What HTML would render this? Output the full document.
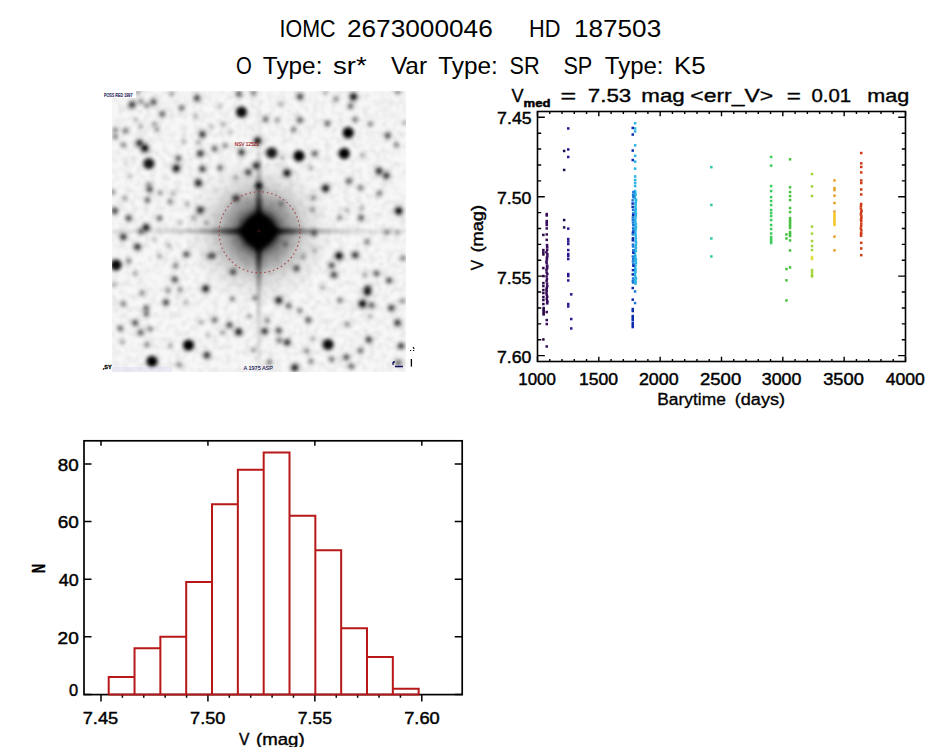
<!DOCTYPE html>
<html><head><meta charset="utf-8"><style>
html,body{margin:0;padding:0;background:#fff;width:944px;height:747px;overflow:hidden}
svg{display:block}
text{font-family:"Liberation Sans",sans-serif;fill:#000;stroke:#000;stroke-width:0.45px}
</style></head><body>
<svg width="944" height="747" viewBox="0 0 944 747">
<text x="279.61" y="37.2" font-size="24" textLength="55.98" lengthAdjust="spacingAndGlyphs" style="stroke-width:0.0px">IOMC</text>
<text x="346.91" y="37.2" font-size="24" textLength="145.82" lengthAdjust="spacingAndGlyphs" style="stroke-width:0.0px">2673000046</text>
<text x="529.09" y="37.2" font-size="24" textLength="31.42" lengthAdjust="spacingAndGlyphs" style="stroke-width:0.0px">HD</text>
<text x="574.02" y="37.2" font-size="24" textLength="87.17" lengthAdjust="spacingAndGlyphs" style="stroke-width:0.0px">187503</text>
<text x="235.95" y="74.2" font-size="24" textLength="15.82" lengthAdjust="spacingAndGlyphs" style="stroke-width:0.0px">O</text>
<text x="262.89" y="74.2" font-size="24" textLength="59.54" lengthAdjust="spacingAndGlyphs" style="stroke-width:0.0px">Type:</text>
<text x="333.05" y="74.2" font-size="24" textLength="33.75" lengthAdjust="spacingAndGlyphs" style="stroke-width:0.0px">sr*</text>
<text x="390.9" y="74.2" font-size="24" textLength="36.19" lengthAdjust="spacingAndGlyphs" style="stroke-width:0.0px">Var</text>
<text x="438.19" y="74.2" font-size="24" textLength="59.54" lengthAdjust="spacingAndGlyphs" style="stroke-width:0.0px">Type:</text>
<text x="509.5" y="74.2" font-size="24" textLength="30.12" lengthAdjust="spacingAndGlyphs" style="stroke-width:0.0px">SR</text>
<text x="563.4" y="74.2" font-size="24" textLength="28.92" lengthAdjust="spacingAndGlyphs" style="stroke-width:0.0px">SP</text>
<text x="604.8" y="74.2" font-size="24" textLength="58.7" lengthAdjust="spacingAndGlyphs" style="stroke-width:0.0px">Type:</text>
<text x="674.05" y="74.2" font-size="24" textLength="31.62" lengthAdjust="spacingAndGlyphs" style="stroke-width:0.0px">K5</text>
<text x="511.5" y="101.8" font-size="18.6" textLength="12.1" lengthAdjust="spacingAndGlyphs" style="stroke-width:0.35px">V</text>
<text x="560.56" y="101.8" font-size="18.6" textLength="15.69" lengthAdjust="spacingAndGlyphs" style="stroke-width:0.35px">=</text>
<text x="587.8" y="101.8" font-size="18.6" textLength="43.44" lengthAdjust="spacingAndGlyphs" style="stroke-width:0.35px">7.53</text>
<text x="641.3" y="101.8" font-size="18.6" textLength="43.41" lengthAdjust="spacingAndGlyphs" style="stroke-width:0.35px">mag</text>
<text x="690.27" y="101.8" font-size="18.6" textLength="82.97" lengthAdjust="spacingAndGlyphs" style="stroke-width:0.35px">&lt;err_V&gt;</text>
<text x="786.7" y="101.8" font-size="18.6" textLength="14.12" lengthAdjust="spacingAndGlyphs" style="stroke-width:0.35px">=</text>
<text x="811.5" y="101.8" font-size="18.6" textLength="39.72" lengthAdjust="spacingAndGlyphs" style="stroke-width:0.35px">0.01</text>
<text x="867.34" y="101.8" font-size="18.6" textLength="42.02" lengthAdjust="spacingAndGlyphs" style="stroke-width:0.35px">mag</text>
<text x="657.3" y="404.9" font-size="17.3" textLength="68.49" lengthAdjust="spacingAndGlyphs" style="stroke-width:0.35px">Barytime</text>
<text x="734.75" y="404.9" font-size="17.3" textLength="50.31" lengthAdjust="spacingAndGlyphs" style="stroke-width:0.35px">(days)</text>
<text x="238.9" y="744.5" font-size="16.8" textLength="10.39" lengthAdjust="spacingAndGlyphs" style="stroke-width:0.4px">V</text>
<text x="255.99" y="744.5" font-size="16.8" textLength="48.63" lengthAdjust="spacingAndGlyphs" style="stroke-width:0.4px">(mag)</text>
<text transform="translate(482.8,0) rotate(-90)" x="-270.3" y="0" font-size="17" textLength="10.42" lengthAdjust="spacingAndGlyphs" style="stroke-width:0.4px">V</text>
<text transform="translate(482.8,0) rotate(-90)" x="-252.57" y="0" font-size="17" textLength="47.61" lengthAdjust="spacingAndGlyphs" style="stroke-width:0.4px">(mag)</text>
<text x="518.29" y="385.3" font-size="16.8" textLength="37.55" lengthAdjust="spacingAndGlyphs" style="stroke-width:0.45px">1000</text>
<text x="578.95" y="385.3" font-size="16.8" textLength="39.11" lengthAdjust="spacingAndGlyphs" style="stroke-width:0.45px">1500</text>
<text x="638.94" y="385.3" font-size="16.8" textLength="39.73" lengthAdjust="spacingAndGlyphs" style="stroke-width:0.45px">2000</text>
<text x="700.0" y="385.3" font-size="16.8" textLength="41.18" lengthAdjust="spacingAndGlyphs" style="stroke-width:0.45px">2500</text>
<text x="761.74" y="385.3" font-size="16.8" textLength="39.63" lengthAdjust="spacingAndGlyphs" style="stroke-width:0.45px">3000</text>
<text x="823.21" y="385.3" font-size="16.8" textLength="40.66" lengthAdjust="spacingAndGlyphs" style="stroke-width:0.45px">3500</text>
<text x="885.7" y="385.3" font-size="16.8" textLength="39.16" lengthAdjust="spacingAndGlyphs" style="stroke-width:0.45px">4000</text>
<text x="497.14" y="124.2" font-size="16.8" textLength="34.57" lengthAdjust="spacingAndGlyphs" style="stroke-width:0.45px">7.45</text>
<text x="497.05" y="204.2" font-size="16.8" textLength="34.36" lengthAdjust="spacingAndGlyphs" style="stroke-width:0.45px">7.50</text>
<text x="497.05" y="283.8" font-size="16.8" textLength="34.36" lengthAdjust="spacingAndGlyphs" style="stroke-width:0.45px">7.55</text>
<text x="497.05" y="362.7" font-size="16.8" textLength="34.36" lengthAdjust="spacingAndGlyphs" style="stroke-width:0.45px">7.60</text>
<text x="82.71" y="724.3" font-size="16.8" textLength="35.52" lengthAdjust="spacingAndGlyphs" style="stroke-width:0.45px">7.45</text>
<text x="190.12" y="724.3" font-size="16.8" textLength="35.31" lengthAdjust="spacingAndGlyphs" style="stroke-width:0.45px">7.50</text>
<text x="297.85" y="724.3" font-size="16.8" textLength="34.15" lengthAdjust="spacingAndGlyphs" style="stroke-width:0.45px">7.55</text>
<text x="404.21" y="724.3" font-size="16.8" textLength="35.52" lengthAdjust="spacingAndGlyphs" style="stroke-width:0.45px">7.60</text>
<text x="57.78" y="470.8" font-size="16.8" textLength="20.87" lengthAdjust="spacingAndGlyphs" style="stroke-width:0.45px">80</text>
<text x="57.67" y="528.4" font-size="16.8" textLength="21.09" lengthAdjust="spacingAndGlyphs" style="stroke-width:0.45px">60</text>
<text x="58.8" y="586" font-size="16.8" textLength="19.92" lengthAdjust="spacingAndGlyphs" style="stroke-width:0.45px">40</text>
<text x="57.56" y="643.5" font-size="16.8" textLength="21.2" lengthAdjust="spacingAndGlyphs" style="stroke-width:0.45px">20</text>
<text x="69.0" y="695.7" font-size="16.8" textLength="9.14" lengthAdjust="spacingAndGlyphs" style="stroke-width:0.45px">0</text>
<rect x="537.5" y="111.5" width="368.0" height="250.0" fill="none" stroke="#000" stroke-width="1.6"/>
<path d="M537.50 361.5v-4.8M537.50 111.5v4.8M549.77 361.5v-2.4M549.77 111.5v2.4M562.03 361.5v-2.4M562.03 111.5v2.4M574.30 361.5v-2.4M574.30 111.5v2.4M586.57 361.5v-2.4M586.57 111.5v2.4M598.83 361.5v-4.8M598.83 111.5v4.8M611.10 361.5v-2.4M611.10 111.5v2.4M623.37 361.5v-2.4M623.37 111.5v2.4M635.63 361.5v-2.4M635.63 111.5v2.4M647.90 361.5v-2.4M647.90 111.5v2.4M660.17 361.5v-4.8M660.17 111.5v4.8M672.43 361.5v-2.4M672.43 111.5v2.4M684.70 361.5v-2.4M684.70 111.5v2.4M696.97 361.5v-2.4M696.97 111.5v2.4M709.23 361.5v-2.4M709.23 111.5v2.4M721.50 361.5v-4.8M721.50 111.5v4.8M733.77 361.5v-2.4M733.77 111.5v2.4M746.03 361.5v-2.4M746.03 111.5v2.4M758.30 361.5v-2.4M758.30 111.5v2.4M770.57 361.5v-2.4M770.57 111.5v2.4M782.83 361.5v-4.8M782.83 111.5v4.8M795.10 361.5v-2.4M795.10 111.5v2.4M807.37 361.5v-2.4M807.37 111.5v2.4M819.63 361.5v-2.4M819.63 111.5v2.4M831.90 361.5v-2.4M831.90 111.5v2.4M844.17 361.5v-4.8M844.17 111.5v4.8M856.43 361.5v-2.4M856.43 111.5v2.4M868.70 361.5v-2.4M868.70 111.5v2.4M880.97 361.5v-2.4M880.97 111.5v2.4M893.23 361.5v-2.4M893.23 111.5v2.4M905.50 361.5v-4.8M905.50 111.5v4.8M537.5 117.30h7.3M905.5 117.30h-7.3M537.5 133.19h3.7M905.5 133.19h-3.7M537.5 149.07h3.7M905.5 149.07h-3.7M537.5 164.96h3.7M905.5 164.96h-3.7M537.5 180.85h3.7M905.5 180.85h-3.7M537.5 196.73h7.3M905.5 196.73h-7.3M537.5 212.62h3.7M905.5 212.62h-3.7M537.5 228.51h3.7M905.5 228.51h-3.7M537.5 244.40h3.7M905.5 244.40h-3.7M537.5 260.28h3.7M905.5 260.28h-3.7M537.5 276.17h7.3M905.5 276.17h-7.3M537.5 292.06h3.7M905.5 292.06h-3.7M537.5 307.94h3.7M905.5 307.94h-3.7M537.5 323.83h3.7M905.5 323.83h-3.7M537.5 339.72h3.7M905.5 339.72h-3.7M537.5 355.61h7.3M905.5 355.61h-7.3" stroke="#000" stroke-width="1.4" fill="none"/>
<text x="523.6" y="107.2" font-size="11" font-weight="bold" textLength="27" lengthAdjust="spacingAndGlyphs">med</text>
<rect x="84" y="440.8" width="378.2" height="253.8" fill="none" stroke="#000" stroke-width="1.7"/>
<path d="M101.00 694.6v6.8M101.00 440.8v5M122.39 694.6v3.2M143.77 694.6v3.2M165.16 694.6v3.2M186.55 694.6v3.2M207.93 694.6v6.8M207.93 440.8v5M229.32 694.6v3.2M250.71 694.6v3.2M272.09 694.6v3.2M293.48 694.6v3.2M314.87 694.6v6.8M314.87 440.8v5M336.25 694.6v3.2M357.64 694.6v3.2M379.03 694.6v3.2M400.41 694.6v3.2M421.80 694.6v6.8M421.80 440.8v5M84 694.40h7.5M462.2 694.40h-7.5M84 636.78h7.5M462.2 636.78h-7.5M84 579.16h7.5M462.2 579.16h-7.5M84 521.54h7.5M462.2 521.54h-7.5M84 463.92h7.5M462.2 463.92h-7.5" stroke="#000" stroke-width="1.5" fill="none"/>
<text transform="translate(45.1,572.9) rotate(-90)" font-size="17.5" font-weight="bold" textLength="9" lengthAdjust="spacingAndGlyphs">N</text>
<path d="M108.70 694.6V677.11H134.53V694.6V648.30H160.36V694.6V636.78H186.19V694.6V582.04H212.02V694.6V504.25H237.85V694.6V469.68H263.68V694.6V452.40H289.51V694.6V515.78H315.34V694.6V550.35H341.17V694.6V628.14H367.00V694.6V656.95H392.83V694.6V688.64H418.66V694.6H108.70" stroke="#b81818" stroke-width="2" fill="none"/>
<defs><clipPath id="fc"><rect x="112" y="91" width="294" height="281"/></clipPath><radialGradient id="sg"><stop offset="0.00" stop-opacity="1.000"/><stop offset="0.10" stop-opacity="0.956"/><stop offset="0.20" stop-opacity="0.835"/><stop offset="0.30" stop-opacity="0.667"/><stop offset="0.40" stop-opacity="0.487"/><stop offset="0.50" stop-opacity="0.325"/><stop offset="0.60" stop-opacity="0.198"/><stop offset="0.70" stop-opacity="0.110"/><stop offset="0.80" stop-opacity="0.056"/><stop offset="0.90" stop-opacity="0.026"/><stop offset="1.00" stop-opacity="0.011"/></radialGradient><radialGradient id="ss"><stop offset="0" stop-opacity="1"/><stop offset="0.3" stop-opacity="1"/><stop offset="0.5" stop-opacity="0.7"/><stop offset="0.7" stop-opacity="0.3"/><stop offset="0.85" stop-opacity="0.1"/><stop offset="1" stop-opacity="0"/></radialGradient><radialGradient id="halo"><stop offset="0.000" stop-opacity="1.000"/><stop offset="0.160" stop-opacity="1.000"/><stop offset="0.200" stop-opacity="0.920"/><stop offset="0.253" stop-opacity="0.700"/><stop offset="0.307" stop-opacity="0.520"/><stop offset="0.373" stop-opacity="0.400"/><stop offset="0.453" stop-opacity="0.310"/><stop offset="0.533" stop-opacity="0.220"/><stop offset="0.627" stop-opacity="0.130"/><stop offset="0.733" stop-opacity="0.070"/><stop offset="0.867" stop-opacity="0.030"/><stop offset="1.000" stop-opacity="0.000"/></radialGradient><linearGradient id="sph" x1="0" y1="0" x2="1" y2="0"><stop offset="0.1252" stop-opacity="0.070"/><stop offset="0.2272" stop-opacity="0.150"/><stop offset="0.3122" stop-opacity="0.240"/><stop offset="0.3633" stop-opacity="0.360"/><stop offset="0.3973" stop-opacity="0.500"/><stop offset="0.4313" stop-opacity="0.620"/><stop offset="0.4993" stop-opacity="0.700"/><stop offset="0.5673" stop-opacity="0.620"/><stop offset="0.6014" stop-opacity="0.500"/><stop offset="0.6354" stop-opacity="0.360"/><stop offset="0.6864" stop-opacity="0.240"/><stop offset="0.7714" stop-opacity="0.150"/><stop offset="0.8735" stop-opacity="0.070"/></linearGradient><linearGradient id="spv" x1="0" y1="0" x2="0" y2="1"><stop offset="0.0000" stop-opacity="0.000"/><stop offset="0.1431" stop-opacity="0.030"/><stop offset="0.2142" stop-opacity="0.080"/><stop offset="0.3032" stop-opacity="0.180"/><stop offset="0.3566" stop-opacity="0.340"/><stop offset="0.3922" stop-opacity="0.500"/><stop offset="0.4278" stop-opacity="0.620"/><stop offset="0.4989" stop-opacity="0.700"/><stop offset="0.5701" stop-opacity="0.620"/><stop offset="0.6057" stop-opacity="0.500"/><stop offset="0.6413" stop-opacity="0.340"/><stop offset="0.6947" stop-opacity="0.220"/><stop offset="0.7836" stop-opacity="0.140"/><stop offset="0.8904" stop-opacity="0.090"/><stop offset="1.0000" stop-opacity="0.050"/></linearGradient><linearGradient id="sph2" x1="0" y1="0" x2="1" y2="0"><stop offset="0.2952" stop-opacity="0.000"/><stop offset="0.3565" stop-opacity="0.080"/><stop offset="0.3973" stop-opacity="0.200"/><stop offset="0.4313" stop-opacity="0.330"/><stop offset="0.4993" stop-opacity="0.400"/><stop offset="0.5673" stop-opacity="0.330"/><stop offset="0.6014" stop-opacity="0.200"/><stop offset="0.6422" stop-opacity="0.080"/><stop offset="0.7034" stop-opacity="0.000"/></linearGradient><linearGradient id="spv2" x1="0" y1="0" x2="0" y2="1"><stop offset="0.2854" stop-opacity="0.000"/><stop offset="0.3495" stop-opacity="0.080"/><stop offset="0.3922" stop-opacity="0.200"/><stop offset="0.4278" stop-opacity="0.330"/><stop offset="0.4989" stop-opacity="0.400"/><stop offset="0.5701" stop-opacity="0.330"/><stop offset="0.6057" stop-opacity="0.200"/><stop offset="0.6484" stop-opacity="0.080"/><stop offset="0.7125" stop-opacity="0.000"/></linearGradient><filter id="b1" x="-50%" y="-50%" width="200%" height="200%"><feGaussianBlur stdDeviation="1.5"/></filter><filter id="tex" x="112" y="91" width="294" height="281" filterUnits="userSpaceOnUse"><feTurbulence type="fractalNoise" baseFrequency="0.16" numOctaves="2" seed="7"/><feColorMatrix type="matrix" values="0 0 0 0 0  0 0 0 0 0  0 0 0 0 0  0 0 0 -2.2 1.35"/><feGaussianBlur stdDeviation="0.9"/></filter><filter id="b07" x="0" y="0" width="944" height="747" filterUnits="userSpaceOnUse"><feGaussianBlur stdDeviation="0.8"/></filter><filter id="b2" x="-50%" y="-50%" width="200%" height="200%"><feGaussianBlur stdDeviation="2.2"/></filter><filter id="b3" x="-50%" y="-50%" width="200%" height="200%"><feGaussianBlur stdDeviation="2.8"/></filter></defs>
<g clip-path="url(#fc)">
<rect x="112" y="91" width="294" height="281" fill="#f7f7f7"/>
<rect x="112" y="91" width="294" height="281" filter="url(#tex)" opacity="0.075"/>
<g filter="url(#b07)">
<circle cx="132.1" cy="104.7" r="8.0" fill="url(#sg)" opacity="0.72"/>
<circle cx="140.8" cy="101.4" r="6.9" fill="url(#sg)" opacity="0.36"/>
<circle cx="146.8" cy="105.4" r="6.9" fill="url(#sg)" opacity="0.36"/>
<circle cx="153.5" cy="102.1" r="7.6" fill="url(#sg)" opacity="0.60"/>
<circle cx="171.6" cy="94.0" r="6.7" fill="url(#sg)" opacity="0.30"/>
<circle cx="197.0" cy="98.0" r="7.8" fill="url(#sg)" opacity="0.66"/>
<circle cx="181.6" cy="108.0" r="7.3" fill="url(#sg)" opacity="0.48"/>
<circle cx="162.2" cy="114.1" r="7.5" fill="url(#sg)" opacity="0.54"/>
<circle cx="138.1" cy="92.0" r="6.7" fill="url(#sg)" opacity="0.30"/>
<circle cx="115.4" cy="130.0" r="6.9" fill="url(#sg)" opacity="0.36"/>
<circle cx="115.4" cy="137.0" r="6.9" fill="url(#sg)" opacity="0.36"/>
<circle cx="125.4" cy="130.8" r="7.1" fill="url(#sg)" opacity="0.42"/>
<circle cx="154.2" cy="124.1" r="6.7" fill="url(#sg)" opacity="0.30"/>
<circle cx="156.9" cy="129.5" r="6.7" fill="url(#sg)" opacity="0.30"/>
<circle cx="140.8" cy="126.8" r="6.5" fill="url(#sg)" opacity="0.24"/>
<circle cx="135.4" cy="119.5" r="6.3" fill="url(#sg)" opacity="0.18"/>
<circle cx="202.4" cy="134.2" r="8.0" fill="url(#sg)" opacity="0.72"/>
<circle cx="198.4" cy="142.2" r="6.5" fill="url(#sg)" opacity="0.24"/>
<circle cx="183.6" cy="141.5" r="6.3" fill="url(#sg)" opacity="0.18"/>
<circle cx="139.5" cy="142.9" r="8.2" fill="url(#sg)" opacity="0.78"/>
<circle cx="144.8" cy="148.2" r="8.8" fill="url(#sg)" opacity="0.96"/>
<circle cx="123.4" cy="144.9" r="6.9" fill="url(#sg)" opacity="0.36"/>
<circle cx="148.8" cy="163.6" r="8.8" fill="url(#ss)" opacity="0.90"/>
<circle cx="178.3" cy="158.3" r="7.5" fill="url(#sg)" opacity="0.54"/>
<circle cx="176.3" cy="168.3" r="8.6" fill="url(#sg)" opacity="0.90"/>
<circle cx="200.4" cy="153.6" r="8.0" fill="url(#sg)" opacity="0.72"/>
<circle cx="202.4" cy="169.0" r="7.8" fill="url(#sg)" opacity="0.66"/>
<circle cx="198.4" cy="183.0" r="8.4" fill="url(#sg)" opacity="0.84"/>
<circle cx="130.1" cy="176.4" r="6.3" fill="url(#sg)" opacity="0.18"/>
<circle cx="126.0" cy="163.6" r="6.1" fill="url(#sg)" opacity="0.12"/>
<circle cx="148.8" cy="184.4" r="6.7" fill="url(#sg)" opacity="0.30"/>
<circle cx="195.7" cy="116.1" r="6.5" fill="url(#sg)" opacity="0.24"/>
<circle cx="241.5" cy="112.1" r="8.8" fill="url(#ss)" opacity="0.95"/>
<circle cx="238.8" cy="94.0" r="7.5" fill="url(#sg)" opacity="0.54"/>
<circle cx="253.5" cy="92.7" r="7.1" fill="url(#sg)" opacity="0.42"/>
<circle cx="300.0" cy="96.7" r="7.8" fill="url(#sg)" opacity="0.66"/>
<circle cx="220.1" cy="106.1" r="6.3" fill="url(#sg)" opacity="0.18"/>
<circle cx="265.6" cy="119.5" r="7.3" fill="url(#sg)" opacity="0.48"/>
<circle cx="280.3" cy="104.1" r="6.5" fill="url(#sg)" opacity="0.24"/>
<circle cx="277.6" cy="120.1" r="6.7" fill="url(#sg)" opacity="0.30"/>
<circle cx="300.0" cy="120.1" r="7.5" fill="url(#sg)" opacity="0.54"/>
<circle cx="293.7" cy="129.5" r="7.1" fill="url(#sg)" opacity="0.42"/>
<circle cx="223.4" cy="124.1" r="6.5" fill="url(#sg)" opacity="0.24"/>
<circle cx="257.6" cy="140.9" r="8.6" fill="url(#sg)" opacity="0.90"/>
<circle cx="241.5" cy="152.3" r="8.0" fill="url(#sg)" opacity="0.72"/>
<circle cx="271.6" cy="152.9" r="8.8" fill="url(#ss)" opacity="0.90"/>
<circle cx="299.0" cy="156.0" r="8.8" fill="url(#ss)" opacity="1.00"/>
<circle cx="214.7" cy="148.9" r="7.3" fill="url(#sg)" opacity="0.48"/>
<circle cx="225.4" cy="145.6" r="6.9" fill="url(#sg)" opacity="0.36"/>
<circle cx="256.2" cy="165.6" r="8.2" fill="url(#sg)" opacity="0.78"/>
<circle cx="248.2" cy="172.3" r="7.8" fill="url(#sg)" opacity="0.66"/>
<circle cx="287.0" cy="173.0" r="8.6" fill="url(#sg)" opacity="0.90"/>
<circle cx="220.1" cy="167.7" r="7.3" fill="url(#sg)" opacity="0.48"/>
<circle cx="236.1" cy="177.7" r="6.5" fill="url(#sg)" opacity="0.24"/>
<circle cx="258.9" cy="185.8" r="8.6" fill="url(#sg)" opacity="0.90"/>
<circle cx="282.3" cy="157.6" r="6.5" fill="url(#sg)" opacity="0.24"/>
<circle cx="230.8" cy="132.2" r="6.3" fill="url(#sg)" opacity="0.18"/>
<circle cx="212.0" cy="126.8" r="6.3" fill="url(#sg)" opacity="0.18"/>
<circle cx="353.5" cy="96.7" r="8.6" fill="url(#sg)" opacity="0.90"/>
<circle cx="350.5" cy="106.0" r="7.3" fill="url(#sg)" opacity="0.48"/>
<circle cx="336.1" cy="98.7" r="6.9" fill="url(#sg)" opacity="0.36"/>
<circle cx="325.4" cy="92.7" r="6.5" fill="url(#sg)" opacity="0.24"/>
<circle cx="397.7" cy="92.0" r="6.9" fill="url(#sg)" opacity="0.36"/>
<circle cx="327.4" cy="123.5" r="7.3" fill="url(#sg)" opacity="0.48"/>
<circle cx="354.9" cy="119.5" r="7.1" fill="url(#sg)" opacity="0.42"/>
<circle cx="370.3" cy="124.1" r="6.9" fill="url(#sg)" opacity="0.36"/>
<circle cx="348.2" cy="132.8" r="8.8" fill="url(#ss)" opacity="1.00"/>
<circle cx="387.7" cy="135.5" r="7.6" fill="url(#sg)" opacity="0.60"/>
<circle cx="396.4" cy="144.9" r="6.9" fill="url(#sg)" opacity="0.36"/>
<circle cx="314.7" cy="153.6" r="7.5" fill="url(#sg)" opacity="0.54"/>
<circle cx="344.2" cy="153.6" r="8.8" fill="url(#ss)" opacity="1.00"/>
<circle cx="362.2" cy="154.9" r="6.5" fill="url(#sg)" opacity="0.24"/>
<circle cx="379.0" cy="171.0" r="8.2" fill="url(#sg)" opacity="0.78"/>
<circle cx="386.3" cy="175.7" r="8.0" fill="url(#sg)" opacity="0.72"/>
<circle cx="348.9" cy="181.2" r="7.5" fill="url(#sg)" opacity="0.54"/>
<circle cx="310.7" cy="168.3" r="6.5" fill="url(#sg)" opacity="0.24"/>
<circle cx="325.6" cy="188.3" r="8.6" fill="url(#sg)" opacity="0.90"/>
<circle cx="360.3" cy="187.6" r="7.1" fill="url(#sg)" opacity="0.42"/>
<circle cx="404.4" cy="122.8" r="6.5" fill="url(#sg)" opacity="0.24"/>
<circle cx="149.5" cy="189.4" r="7.6" fill="url(#sg)" opacity="0.60"/>
<circle cx="147.5" cy="200.0" r="7.3" fill="url(#sg)" opacity="0.48"/>
<circle cx="112.7" cy="192.0" r="6.9" fill="url(#sg)" opacity="0.36"/>
<circle cx="124.7" cy="198.1" r="6.7" fill="url(#sg)" opacity="0.30"/>
<circle cx="160.2" cy="192.7" r="6.7" fill="url(#sg)" opacity="0.30"/>
<circle cx="172.9" cy="193.4" r="6.5" fill="url(#sg)" opacity="0.24"/>
<circle cx="170.2" cy="201.4" r="6.9" fill="url(#sg)" opacity="0.36"/>
<circle cx="187.0" cy="204.1" r="6.5" fill="url(#sg)" opacity="0.24"/>
<circle cx="200.4" cy="210.1" r="8.2" fill="url(#sg)" opacity="0.78"/>
<circle cx="114.7" cy="210.8" r="7.8" fill="url(#sg)" opacity="0.66"/>
<circle cx="128.7" cy="218.2" r="7.6" fill="url(#sg)" opacity="0.60"/>
<circle cx="159.5" cy="218.2" r="7.3" fill="url(#sg)" opacity="0.48"/>
<circle cx="193.7" cy="218.2" r="6.5" fill="url(#sg)" opacity="0.24"/>
<circle cx="146.1" cy="227.5" r="8.4" fill="url(#sg)" opacity="0.84"/>
<circle cx="140.8" cy="231.5" r="7.3" fill="url(#sg)" opacity="0.48"/>
<circle cx="123.4" cy="236.9" r="8.0" fill="url(#sg)" opacity="0.72"/>
<circle cx="137.4" cy="246.9" r="8.0" fill="url(#sg)" opacity="0.72"/>
<circle cx="154.2" cy="239.6" r="6.3" fill="url(#sg)" opacity="0.18"/>
<circle cx="168.9" cy="245.6" r="6.5" fill="url(#sg)" opacity="0.24"/>
<circle cx="186.3" cy="254.3" r="7.6" fill="url(#sg)" opacity="0.60"/>
<circle cx="116.0" cy="265.0" r="8.8" fill="url(#ss)" opacity="0.95"/>
<circle cx="128.7" cy="261.0" r="6.9" fill="url(#sg)" opacity="0.36"/>
<circle cx="175.6" cy="265.7" r="7.1" fill="url(#sg)" opacity="0.42"/>
<circle cx="159.5" cy="256.3" r="6.5" fill="url(#sg)" opacity="0.24"/>
<circle cx="174.7" cy="279.5" r="7.6" fill="url(#sg)" opacity="0.60"/>
<circle cx="135.4" cy="273.7" r="6.5" fill="url(#sg)" opacity="0.24"/>
<circle cx="206.2" cy="222.8" r="6.5" fill="url(#sg)" opacity="0.24"/>
<circle cx="209.0" cy="256.3" r="6.9" fill="url(#sg)" opacity="0.36"/>
<circle cx="179.6" cy="222.8" r="6.3" fill="url(#sg)" opacity="0.18"/>
<circle cx="236.1" cy="198.4" r="8.0" fill="url(#sg)" opacity="0.72"/>
<circle cx="281.0" cy="203.6" r="6.9" fill="url(#sg)" opacity="0.36"/>
<circle cx="212.5" cy="255.8" r="7.6" fill="url(#sg)" opacity="0.60"/>
<circle cx="233.1" cy="272.0" r="7.6" fill="url(#sg)" opacity="0.60"/>
<circle cx="296.5" cy="268.4" r="7.6" fill="url(#sg)" opacity="0.60"/>
<circle cx="314.0" cy="233.0" r="7.5" fill="url(#sg)" opacity="0.54"/>
<circle cx="205.6" cy="288.6" r="8.4" fill="url(#sg)" opacity="0.84"/>
<circle cx="313.4" cy="197.7" r="6.9" fill="url(#sg)" opacity="0.36"/>
<circle cx="285.4" cy="244.1" r="6.7" fill="url(#sg)" opacity="0.30"/>
<circle cx="303.0" cy="257.0" r="6.7" fill="url(#sg)" opacity="0.30"/>
<circle cx="312.2" cy="209.8" r="6.7" fill="url(#sg)" opacity="0.30"/>
<circle cx="379.5" cy="193.3" r="7.1" fill="url(#sg)" opacity="0.42"/>
<circle cx="398.7" cy="210.9" r="8.8" fill="url(#sg)" opacity="0.96"/>
<circle cx="347.1" cy="210.2" r="6.5" fill="url(#sg)" opacity="0.24"/>
<circle cx="361.9" cy="208.0" r="6.5" fill="url(#sg)" opacity="0.24"/>
<circle cx="339.8" cy="217.6" r="6.9" fill="url(#sg)" opacity="0.36"/>
<circle cx="361.1" cy="217.6" r="7.5" fill="url(#sg)" opacity="0.54"/>
<circle cx="386.9" cy="232.3" r="6.9" fill="url(#sg)" opacity="0.36"/>
<circle cx="367.0" cy="241.9" r="7.1" fill="url(#sg)" opacity="0.42"/>
<circle cx="339.0" cy="255.8" r="8.8" fill="url(#sg)" opacity="0.96"/>
<circle cx="355.2" cy="255.1" r="8.0" fill="url(#sg)" opacity="0.72"/>
<circle cx="331.7" cy="265.4" r="7.6" fill="url(#sg)" opacity="0.60"/>
<circle cx="333.9" cy="274.8" r="7.8" fill="url(#sg)" opacity="0.66"/>
<circle cx="376.6" cy="273.5" r="7.5" fill="url(#sg)" opacity="0.54"/>
<circle cx="389.1" cy="280.5" r="7.6" fill="url(#sg)" opacity="0.60"/>
<circle cx="364.8" cy="275.0" r="6.5" fill="url(#sg)" opacity="0.24"/>
<circle cx="403.1" cy="258.1" r="6.9" fill="url(#sg)" opacity="0.36"/>
<circle cx="367.7" cy="288.2" r="7.6" fill="url(#sg)" opacity="0.60"/>
<circle cx="314.7" cy="250.7" r="6.5" fill="url(#sg)" opacity="0.24"/>
<circle cx="397.2" cy="232.3" r="6.5" fill="url(#sg)" opacity="0.24"/>
<circle cx="168.1" cy="290.4" r="6.9" fill="url(#sg)" opacity="0.36"/>
<circle cx="180.1" cy="289.7" r="6.9" fill="url(#sg)" opacity="0.36"/>
<circle cx="142.1" cy="292.6" r="6.9" fill="url(#sg)" opacity="0.36"/>
<circle cx="114.0" cy="284.8" r="6.5" fill="url(#sg)" opacity="0.24"/>
<circle cx="123.2" cy="303.8" r="7.1" fill="url(#sg)" opacity="0.42"/>
<circle cx="166.0" cy="302.4" r="7.6" fill="url(#sg)" opacity="0.60"/>
<circle cx="146.3" cy="308.0" r="7.3" fill="url(#sg)" opacity="0.48"/>
<circle cx="146.3" cy="314.0" r="7.3" fill="url(#sg)" opacity="0.48"/>
<circle cx="135.1" cy="322.8" r="7.6" fill="url(#sg)" opacity="0.60"/>
<circle cx="120.4" cy="328.4" r="7.3" fill="url(#sg)" opacity="0.48"/>
<circle cx="140.7" cy="332.6" r="7.5" fill="url(#sg)" opacity="0.54"/>
<circle cx="149.9" cy="329.1" r="6.9" fill="url(#sg)" opacity="0.36"/>
<circle cx="188.5" cy="345.2" r="8.8" fill="url(#ss)" opacity="1.00"/>
<circle cx="152.0" cy="361.4" r="8.8" fill="url(#ss)" opacity="1.00"/>
<circle cx="147.0" cy="344.5" r="6.9" fill="url(#sg)" opacity="0.36"/>
<circle cx="206.8" cy="355.1" r="8.1" fill="url(#sg)" opacity="0.74"/>
<circle cx="179.4" cy="364.9" r="6.9" fill="url(#sg)" opacity="0.36"/>
<circle cx="170.2" cy="345.9" r="6.5" fill="url(#sg)" opacity="0.24"/>
<circle cx="122.5" cy="342.4" r="6.5" fill="url(#sg)" opacity="0.24"/>
<circle cx="201.1" cy="322.0" r="6.5" fill="url(#sg)" opacity="0.24"/>
<circle cx="185.7" cy="302.4" r="6.5" fill="url(#sg)" opacity="0.24"/>
<circle cx="232.3" cy="298.9" r="6.9" fill="url(#sg)" opacity="0.36"/>
<circle cx="254.8" cy="298.2" r="6.9" fill="url(#sg)" opacity="0.36"/>
<circle cx="278.7" cy="300.3" r="8.4" fill="url(#sg)" opacity="0.84"/>
<circle cx="288.5" cy="305.9" r="7.3" fill="url(#sg)" opacity="0.48"/>
<circle cx="299.7" cy="310.8" r="6.9" fill="url(#sg)" opacity="0.36"/>
<circle cx="214.7" cy="319.9" r="7.3" fill="url(#sg)" opacity="0.48"/>
<circle cx="229.5" cy="324.9" r="7.6" fill="url(#sg)" opacity="0.60"/>
<circle cx="238.6" cy="331.9" r="8.4" fill="url(#sg)" opacity="0.84"/>
<circle cx="267.4" cy="320.6" r="6.9" fill="url(#sg)" opacity="0.36"/>
<circle cx="249.2" cy="316.4" r="6.5" fill="url(#sg)" opacity="0.24"/>
<circle cx="264.6" cy="331.2" r="8.0" fill="url(#sg)" opacity="0.72"/>
<circle cx="278.7" cy="330.5" r="7.6" fill="url(#sg)" opacity="0.60"/>
<circle cx="287.1" cy="342.4" r="8.0" fill="url(#sg)" opacity="0.72"/>
<circle cx="279.4" cy="340.3" r="7.1" fill="url(#sg)" opacity="0.42"/>
<circle cx="222.5" cy="332.6" r="6.7" fill="url(#sg)" opacity="0.30"/>
<circle cx="253.4" cy="350.1" r="6.7" fill="url(#sg)" opacity="0.30"/>
<circle cx="269.5" cy="362.1" r="7.1" fill="url(#sg)" opacity="0.42"/>
<circle cx="294.8" cy="367.7" r="8.4" fill="url(#sg)" opacity="0.84"/>
<circle cx="308.2" cy="319.9" r="7.5" fill="url(#sg)" opacity="0.54"/>
<circle cx="306.9" cy="350.8" r="6.9" fill="url(#sg)" opacity="0.36"/>
<circle cx="208.4" cy="335.4" r="6.3" fill="url(#sg)" opacity="0.18"/>
<circle cx="367.4" cy="291.9" r="8.6" fill="url(#sg)" opacity="0.90"/>
<circle cx="362.5" cy="303.8" r="8.8" fill="url(#sg)" opacity="0.96"/>
<circle cx="371.6" cy="305.2" r="7.5" fill="url(#sg)" opacity="0.54"/>
<circle cx="340.0" cy="300.3" r="7.1" fill="url(#sg)" opacity="0.42"/>
<circle cx="391.3" cy="308.0" r="7.8" fill="url(#sg)" opacity="0.66"/>
<circle cx="402.5" cy="301.0" r="6.9" fill="url(#sg)" opacity="0.36"/>
<circle cx="347.0" cy="324.2" r="6.9" fill="url(#sg)" opacity="0.36"/>
<circle cx="397.6" cy="322.8" r="8.0" fill="url(#sg)" opacity="0.72"/>
<circle cx="370.2" cy="316.4" r="6.5" fill="url(#sg)" opacity="0.24"/>
<circle cx="328.1" cy="344.5" r="8.8" fill="url(#ss)" opacity="0.95"/>
<circle cx="368.8" cy="339.6" r="7.8" fill="url(#sg)" opacity="0.66"/>
<circle cx="401.1" cy="345.9" r="7.8" fill="url(#sg)" opacity="0.66"/>
<circle cx="360.4" cy="350.8" r="7.3" fill="url(#sg)" opacity="0.48"/>
<circle cx="346.3" cy="357.2" r="7.6" fill="url(#sg)" opacity="0.60"/>
<circle cx="331.6" cy="359.3" r="7.1" fill="url(#sg)" opacity="0.42"/>
<circle cx="311.2" cy="361.4" r="6.9" fill="url(#sg)" opacity="0.36"/>
<circle cx="351.3" cy="366.3" r="7.3" fill="url(#sg)" opacity="0.48"/>
<circle cx="398.3" cy="362.8" r="7.5" fill="url(#sg)" opacity="0.54"/>
<circle cx="312.6" cy="338.9" r="6.5" fill="url(#sg)" opacity="0.24"/>
<circle cx="322.5" cy="287.6" r="6.5" fill="url(#sg)" opacity="0.24"/>
</g>
<circle cx="258.8" cy="231.2" r="75.0" fill="url(#halo)"/>
<rect x="256.3" y="91" width="5" height="281" fill="url(#spv)" filter="url(#b1)"/>
<rect x="112" y="228.7" width="294" height="5" fill="url(#sph)" filter="url(#b1)"/>
<path d="M238.8 231.2L258.8 211.2L278.8 231.2L258.8 251.2Z" filter="url(#b3)"/>
<rect x="254.8" y="91" width="8" height="281" fill="url(#spv2)" filter="url(#b2)"/>
<rect x="112" y="227.2" width="294" height="8" fill="url(#sph2)" filter="url(#b2)"/>
</g>
<rect x="112" y="367" width="60" height="5" fill="#c8c8f0" opacity="0.25"/>
<rect x="103" y="90" width="33" height="8" fill="#fff"/>
<text x="104" y="96.6" font-size="5.5" textLength="28.5" lengthAdjust="spacingAndGlyphs" style="fill:#101050;stroke:#101050;stroke-width:0.2px">POSS RED 1997</text>
<text x="234.8" y="146.3" font-size="5.5" textLength="24" lengthAdjust="spacingAndGlyphs" style="fill:#a01818;stroke:#a01818;stroke-width:0.15px">NSV 12521</text>
<text x="102.8" y="368.6" font-size="6" font-weight="bold" textLength="9" lengthAdjust="spacingAndGlyphs" style="stroke-width:0.3px">,SY</text>
<text x="243.5" y="370" font-size="5" textLength="29.5" lengthAdjust="spacingAndGlyphs" style="fill:#101050;stroke:#101050;stroke-width:0.1px">A 1975 ASP</text>
<path d="M393 362v3M393 362h2M395 366.5h8" stroke="#101060" stroke-width="1.3" fill="none"/>
<path d="M411.4 359v7.6" stroke="#000" stroke-width="1.3" fill="none"/>
<path d="M410 350.5h1.2M413 350.5h1.2M413 347l1.2 2" stroke="#000" stroke-width="1.1" fill="none"/>
<path d="M258.8 227v8M254.8 231h8" stroke="#602020" stroke-width="0.4" fill="none" opacity="0.5"/><rect x="258.4" y="230.6" width="0.9" height="0.9" fill="#a04040"/>
<circle cx="259.5" cy="232.3" r="40.5" fill="none" stroke="#a82a2a" stroke-width="1.1" stroke-dasharray="1.5 2.9" opacity="0.85"/>
<g>
<rect x="545.5" y="212.8" width="2.5" height="2.5" fill="#3a0c5c"/>
<rect x="545.5" y="214.2" width="2.5" height="2.5" fill="#3a0c5c"/>
<rect x="545.5" y="219.8" width="2.5" height="2.5" fill="#3a0c5c"/>
<rect x="545.5" y="221.8" width="2.5" height="2.5" fill="#3a0c5c"/>
<rect x="545.5" y="223.8" width="2.5" height="2.5" fill="#3a0c5c"/>
<rect x="545.5" y="227.2" width="2.5" height="2.5" fill="#3a0c5c"/>
<rect x="545.5" y="233.2" width="2.5" height="2.5" fill="#3a0c5c"/>
<rect x="545.5" y="238.6" width="2.5" height="2.5" fill="#3a0c5c"/>
<rect x="545.5" y="318.8" width="2.5" height="2.5" fill="#3a0c5c"/>
<rect x="545.5" y="322.8" width="2.5" height="2.5" fill="#3a0c5c"/>
<rect x="545.5" y="345.2" width="2.5" height="2.5" fill="#3a0c5c"/>
<rect x="545.8" y="243.8" width="2.5" height="2.5" fill="#3a0c5c"/>
<rect x="545.9" y="246.0" width="2.5" height="2.5" fill="#3a0c5c"/>
<rect x="545.9" y="248.5" width="2.5" height="2.5" fill="#3a0c5c"/>
<rect x="545.2" y="251.0" width="2.5" height="2.5" fill="#3a0c5c"/>
<rect x="546.1" y="252.9" width="2.5" height="2.5" fill="#3a0c5c"/>
<rect x="546.1" y="255.1" width="2.5" height="2.5" fill="#3a0c5c"/>
<rect x="545.6" y="256.5" width="2.5" height="2.5" fill="#3a0c5c"/>
<rect x="545.7" y="258.2" width="2.5" height="2.5" fill="#3a0c5c"/>
<rect x="545.2" y="260.2" width="2.5" height="2.5" fill="#3a0c5c"/>
<rect x="545.4" y="261.8" width="2.5" height="2.5" fill="#3a0c5c"/>
<rect x="545.9" y="264.3" width="2.5" height="2.5" fill="#3a0c5c"/>
<rect x="545.9" y="265.8" width="2.5" height="2.5" fill="#3a0c5c"/>
<rect x="545.8" y="267.3" width="2.5" height="2.5" fill="#3a0c5c"/>
<rect x="545.2" y="268.7" width="2.5" height="2.5" fill="#3a0c5c"/>
<rect x="545.4" y="271.2" width="2.5" height="2.5" fill="#3a0c5c"/>
<rect x="546.1" y="272.7" width="2.5" height="2.5" fill="#3a0c5c"/>
<rect x="545.4" y="275.2" width="2.5" height="2.5" fill="#3a0c5c"/>
<rect x="545.7" y="277.7" width="2.5" height="2.5" fill="#3a0c5c"/>
<rect x="545.4" y="279.9" width="2.5" height="2.5" fill="#3a0c5c"/>
<rect x="545.8" y="282.4" width="2.5" height="2.5" fill="#3a0c5c"/>
<rect x="546.0" y="285.0" width="2.5" height="2.5" fill="#3a0c5c"/>
<rect x="545.5" y="286.7" width="2.5" height="2.5" fill="#3a0c5c"/>
<rect x="545.3" y="288.2" width="2.5" height="2.5" fill="#3a0c5c"/>
<rect x="545.5" y="289.6" width="2.5" height="2.5" fill="#3a0c5c"/>
<rect x="545.2" y="291.7" width="2.5" height="2.5" fill="#3a0c5c"/>
<rect x="545.5" y="293.8" width="2.5" height="2.5" fill="#3a0c5c"/>
<rect x="546.0" y="295.5" width="2.5" height="2.5" fill="#3a0c5c"/>
<rect x="545.5" y="297.5" width="2.5" height="2.5" fill="#3a0c5c"/>
<rect x="545.9" y="299.4" width="2.5" height="2.5" fill="#3a0c5c"/>
<rect x="546.1" y="300.8" width="2.5" height="2.5" fill="#3a0c5c"/>
<rect x="545.9" y="302.1" width="2.5" height="2.5" fill="#3a0c5c"/>
<rect x="542.1" y="233.7" width="2.5" height="2.5" fill="#2c0846"/>
<rect x="542.1" y="248.8" width="2.5" height="2.5" fill="#2c0846"/>
<rect x="542.1" y="251.2" width="2.5" height="2.5" fill="#2c0846"/>
<rect x="542.1" y="253.2" width="2.5" height="2.5" fill="#2c0846"/>
<rect x="542.1" y="266.8" width="2.5" height="2.5" fill="#2c0846"/>
<rect x="542.1" y="274.8" width="2.5" height="2.5" fill="#2c0846"/>
<rect x="542.1" y="281.8" width="2.5" height="2.5" fill="#2c0846"/>
<rect x="542.1" y="284.8" width="2.5" height="2.5" fill="#2c0846"/>
<rect x="542.1" y="288.8" width="2.5" height="2.5" fill="#2c0846"/>
<rect x="542.1" y="291.8" width="2.5" height="2.5" fill="#2c0846"/>
<rect x="542.1" y="295.8" width="2.5" height="2.5" fill="#2c0846"/>
<rect x="542.1" y="298.8" width="2.5" height="2.5" fill="#2c0846"/>
<rect x="542.1" y="302.8" width="2.5" height="2.5" fill="#2c0846"/>
<rect x="542.1" y="338.2" width="2.5" height="2.5" fill="#2c0846"/>
<rect x="542.4" y="306.8" width="2.5" height="2.5" fill="#2c0846"/>
<rect x="542.4" y="308.4" width="2.5" height="2.5" fill="#2c0846"/>
<rect x="542.4" y="310.0" width="2.5" height="2.5" fill="#2c0846"/>
<rect x="542.4" y="311.6" width="2.5" height="2.5" fill="#2c0846"/>
<rect x="542.4" y="313.2" width="2.5" height="2.5" fill="#2c0846"/>
<rect x="545.5" y="310.8" width="2.5" height="2.5" fill="#3a0c5c"/>
<rect x="567.0" y="127.2" width="2.5" height="2.5" fill="#2a1890"/>
<rect x="567.0" y="148.2" width="2.5" height="2.5" fill="#2a1890"/>
<rect x="567.0" y="155.7" width="2.5" height="2.5" fill="#2a1890"/>
<rect x="567.0" y="227.4" width="2.5" height="2.5" fill="#2a1890"/>
<rect x="567.0" y="237.8" width="2.5" height="2.5" fill="#2a1890"/>
<rect x="567.0" y="240.2" width="2.5" height="2.5" fill="#2a1890"/>
<rect x="567.0" y="242.8" width="2.5" height="2.5" fill="#2a1890"/>
<rect x="567.0" y="248.8" width="2.5" height="2.5" fill="#2a1890"/>
<rect x="567.0" y="252.8" width="2.5" height="2.5" fill="#2a1890"/>
<rect x="567.0" y="254.8" width="2.5" height="2.5" fill="#2a1890"/>
<rect x="567.0" y="257.8" width="2.5" height="2.5" fill="#2a1890"/>
<rect x="567.0" y="272.8" width="2.5" height="2.5" fill="#2a1890"/>
<rect x="567.0" y="274.8" width="2.5" height="2.5" fill="#2a1890"/>
<rect x="567.0" y="279.2" width="2.5" height="2.5" fill="#2a1890"/>
<rect x="567.0" y="302.8" width="2.5" height="2.5" fill="#2a1890"/>
<rect x="567.0" y="305.2" width="2.5" height="2.5" fill="#2a1890"/>
<rect x="562.9" y="149.7" width="2.5" height="2.5" fill="#1c1048"/>
<rect x="562.9" y="168.7" width="2.5" height="2.5" fill="#1c1048"/>
<rect x="562.9" y="218.8" width="2.5" height="2.5" fill="#1c1048"/>
<rect x="562.9" y="226.2" width="2.5" height="2.5" fill="#1c1048"/>
<rect x="570.0" y="293.1" width="2.5" height="2.5" fill="#2a1890"/>
<rect x="570.0" y="317.8" width="2.5" height="2.5" fill="#2a1890"/>
<rect x="570.0" y="327.2" width="2.5" height="2.5" fill="#2a1890"/>
<rect x="633.9" y="122.0" width="2.5" height="2.5" fill="#28b4e6"/>
<rect x="633.9" y="127.2" width="2.5" height="2.5" fill="#28b4e6"/>
<rect x="633.9" y="130.2" width="2.5" height="2.5" fill="#28b4e6"/>
<rect x="633.9" y="144.1" width="2.5" height="2.5" fill="#28b4e6"/>
<rect x="633.9" y="154.6" width="2.5" height="2.5" fill="#28b4e6"/>
<rect x="633.9" y="160.4" width="2.5" height="2.5" fill="#28b4e6"/>
<rect x="633.9" y="167.4" width="2.5" height="2.5" fill="#28b4e6"/>
<rect x="633.9" y="175.2" width="2.5" height="2.5" fill="#28b4e6"/>
<rect x="633.9" y="178.8" width="2.5" height="2.5" fill="#28b4e6"/>
<rect x="633.9" y="181.8" width="2.5" height="2.5" fill="#28b4e6"/>
<rect x="633.9" y="184.8" width="2.5" height="2.5" fill="#28b4e6"/>
<rect x="631.5" y="126.7" width="2.5" height="2.5" fill="#0c2cae"/>
<rect x="631.5" y="133.3" width="2.5" height="2.5" fill="#0c2cae"/>
<rect x="631.5" y="149.3" width="2.5" height="2.5" fill="#0c2cae"/>
<rect x="631.5" y="158.8" width="2.5" height="2.5" fill="#0c2cae"/>
<rect x="631.5" y="286.8" width="2.5" height="2.5" fill="#0c2cae"/>
<rect x="631.5" y="298.4" width="2.5" height="2.5" fill="#0c2cae"/>
<rect x="631.5" y="307.8" width="2.5" height="2.5" fill="#0c2cae"/>
<rect x="631.5" y="309.8" width="2.5" height="2.5" fill="#0c2cae"/>
<rect x="631.5" y="314.8" width="2.5" height="2.5" fill="#0c2cae"/>
<rect x="631.5" y="316.8" width="2.5" height="2.5" fill="#0c2cae"/>
<rect x="631.5" y="318.8" width="2.5" height="2.5" fill="#0c2cae"/>
<rect x="631.5" y="321.8" width="2.5" height="2.5" fill="#0c2cae"/>
<rect x="631.5" y="323.8" width="2.5" height="2.5" fill="#0c2cae"/>
<rect x="631.5" y="325.8" width="2.5" height="2.5" fill="#0c2cae"/>
<rect x="633.8" y="290.2" width="2.5" height="2.5" fill="#1a78d8"/>
<rect x="633.8" y="301.8" width="2.5" height="2.5" fill="#1a78d8"/>
<rect x="633.8" y="189.8" width="2.5" height="2.5" fill="#28b4e6"/>
<rect x="634.0" y="191.6" width="2.5" height="2.5" fill="#28b4e6"/>
<rect x="634.3" y="193.5" width="2.5" height="2.5" fill="#28b4e6"/>
<rect x="633.5" y="194.8" width="2.5" height="2.5" fill="#28b4e6"/>
<rect x="633.8" y="197.0" width="2.5" height="2.5" fill="#28b4e6"/>
<rect x="634.8" y="198.5" width="2.5" height="2.5" fill="#28b4e6"/>
<rect x="634.6" y="200.3" width="2.5" height="2.5" fill="#28b4e6"/>
<rect x="634.3" y="202.0" width="2.5" height="2.5" fill="#28b4e6"/>
<rect x="634.3" y="203.4" width="2.5" height="2.5" fill="#28b4e6"/>
<rect x="634.2" y="205.7" width="2.5" height="2.5" fill="#28b4e6"/>
<rect x="634.4" y="207.7" width="2.5" height="2.5" fill="#28b4e6"/>
<rect x="634.5" y="209.0" width="2.5" height="2.5" fill="#28b4e6"/>
<rect x="633.9" y="210.9" width="2.5" height="2.5" fill="#28b4e6"/>
<rect x="634.7" y="212.2" width="2.5" height="2.5" fill="#28b4e6"/>
<rect x="634.5" y="213.9" width="2.5" height="2.5" fill="#28b4e6"/>
<rect x="634.4" y="216.2" width="2.5" height="2.5" fill="#28b4e6"/>
<rect x="634.0" y="218.5" width="2.5" height="2.5" fill="#28b4e6"/>
<rect x="634.1" y="220.7" width="2.5" height="2.5" fill="#28b4e6"/>
<rect x="634.7" y="223.0" width="2.5" height="2.5" fill="#28b4e6"/>
<rect x="633.6" y="224.3" width="2.5" height="2.5" fill="#28b4e6"/>
<rect x="634.8" y="225.8" width="2.5" height="2.5" fill="#28b4e6"/>
<rect x="634.3" y="227.5" width="2.5" height="2.5" fill="#28b4e6"/>
<rect x="634.2" y="229.0" width="2.5" height="2.5" fill="#28b4e6"/>
<rect x="633.9" y="230.7" width="2.5" height="2.5" fill="#28b4e6"/>
<rect x="634.3" y="232.6" width="2.5" height="2.5" fill="#28b4e6"/>
<rect x="634.4" y="234.9" width="2.5" height="2.5" fill="#28b4e6"/>
<rect x="634.6" y="237.2" width="2.5" height="2.5" fill="#28b4e6"/>
<rect x="634.4" y="239.6" width="2.5" height="2.5" fill="#28b4e6"/>
<rect x="634.7" y="241.0" width="2.5" height="2.5" fill="#28b4e6"/>
<rect x="634.7" y="243.3" width="2.5" height="2.5" fill="#28b4e6"/>
<rect x="634.4" y="245.2" width="2.5" height="2.5" fill="#28b4e6"/>
<rect x="634.6" y="246.7" width="2.5" height="2.5" fill="#28b4e6"/>
<rect x="633.8" y="248.6" width="2.5" height="2.5" fill="#28b4e6"/>
<rect x="634.6" y="249.8" width="2.5" height="2.5" fill="#28b4e6"/>
<rect x="633.6" y="252.2" width="2.5" height="2.5" fill="#28b4e6"/>
<rect x="634.0" y="254.4" width="2.5" height="2.5" fill="#28b4e6"/>
<rect x="633.9" y="255.8" width="2.5" height="2.5" fill="#28b4e6"/>
<rect x="634.7" y="257.9" width="2.5" height="2.5" fill="#28b4e6"/>
<rect x="634.3" y="259.1" width="2.5" height="2.5" fill="#28b4e6"/>
<rect x="634.5" y="260.4" width="2.5" height="2.5" fill="#28b4e6"/>
<rect x="634.7" y="262.0" width="2.5" height="2.5" fill="#28b4e6"/>
<rect x="634.2" y="264.4" width="2.5" height="2.5" fill="#28b4e6"/>
<rect x="633.9" y="266.8" width="2.5" height="2.5" fill="#28b4e6"/>
<rect x="634.3" y="268.1" width="2.5" height="2.5" fill="#28b4e6"/>
<rect x="633.7" y="269.3" width="2.5" height="2.5" fill="#28b4e6"/>
<rect x="634.3" y="271.0" width="2.5" height="2.5" fill="#28b4e6"/>
<rect x="633.5" y="272.4" width="2.5" height="2.5" fill="#28b4e6"/>
<rect x="633.9" y="274.6" width="2.5" height="2.5" fill="#28b4e6"/>
<rect x="634.7" y="277.0" width="2.5" height="2.5" fill="#28b4e6"/>
<rect x="634.1" y="278.6" width="2.5" height="2.5" fill="#28b4e6"/>
<rect x="634.4" y="280.5" width="2.5" height="2.5" fill="#28b4e6"/>
<rect x="634.2" y="282.4" width="2.5" height="2.5" fill="#28b4e6"/>
<rect x="632.1" y="190.8" width="2.5" height="2.5" fill="#1a78d8"/>
<rect x="631.9" y="193.5" width="2.5" height="2.5" fill="#1a78d8"/>
<rect x="632.1" y="195.9" width="2.5" height="2.5" fill="#1a78d8"/>
<rect x="631.4" y="199.1" width="2.5" height="2.5" fill="#1a78d8"/>
<rect x="631.4" y="202.3" width="2.5" height="2.5" fill="#0c2cae"/>
<rect x="631.4" y="205.7" width="2.5" height="2.5" fill="#0c2cae"/>
<rect x="631.9" y="208.6" width="2.5" height="2.5" fill="#1a78d8"/>
<rect x="631.9" y="212.2" width="2.5" height="2.5" fill="#1a78d8"/>
<rect x="631.9" y="213.9" width="2.5" height="2.5" fill="#0c2cae"/>
<rect x="631.7" y="216.2" width="2.5" height="2.5" fill="#1a78d8"/>
<rect x="631.6" y="218.6" width="2.5" height="2.5" fill="#1a78d8"/>
<rect x="631.8" y="221.3" width="2.5" height="2.5" fill="#1a78d8"/>
<rect x="632.0" y="223.9" width="2.5" height="2.5" fill="#1a78d8"/>
<rect x="631.9" y="227.1" width="2.5" height="2.5" fill="#1a78d8"/>
<rect x="632.0" y="229.3" width="2.5" height="2.5" fill="#1a78d8"/>
<rect x="631.7" y="231.3" width="2.5" height="2.5" fill="#0c2cae"/>
<rect x="631.6" y="233.1" width="2.5" height="2.5" fill="#1a78d8"/>
<rect x="631.7" y="237.1" width="2.5" height="2.5" fill="#0c2cae"/>
<rect x="631.6" y="239.1" width="2.5" height="2.5" fill="#0c2cae"/>
<rect x="631.7" y="243.3" width="2.5" height="2.5" fill="#1a78d8"/>
<rect x="631.8" y="245.2" width="2.5" height="2.5" fill="#1a78d8"/>
<rect x="632.0" y="249.1" width="2.5" height="2.5" fill="#1a78d8"/>
<rect x="632.0" y="251.4" width="2.5" height="2.5" fill="#0c2cae"/>
<rect x="631.6" y="255.3" width="2.5" height="2.5" fill="#1a78d8"/>
<rect x="632.0" y="257.7" width="2.5" height="2.5" fill="#1a78d8"/>
<rect x="631.7" y="260.2" width="2.5" height="2.5" fill="#1a78d8"/>
<rect x="632.1" y="263.0" width="2.5" height="2.5" fill="#1a78d8"/>
<rect x="632.1" y="264.5" width="2.5" height="2.5" fill="#0c2cae"/>
<rect x="631.7" y="268.9" width="2.5" height="2.5" fill="#0c2cae"/>
<rect x="631.5" y="273.2" width="2.5" height="2.5" fill="#0c2cae"/>
<rect x="631.9" y="277.2" width="2.5" height="2.5" fill="#1a78d8"/>
<rect x="631.6" y="279.6" width="2.5" height="2.5" fill="#1a78d8"/>
<rect x="631.8" y="281.3" width="2.5" height="2.5" fill="#1a78d8"/>
<rect x="710.1" y="165.9" width="2.5" height="2.5" fill="#2ec8a4"/>
<rect x="710.1" y="203.7" width="2.5" height="2.5" fill="#2ec8a4"/>
<rect x="710.1" y="237.2" width="2.5" height="2.5" fill="#2ec8a4"/>
<rect x="710.1" y="255.2" width="2.5" height="2.5" fill="#2ec8a4"/>
<rect x="769.9" y="155.7" width="2.5" height="2.5" fill="#3ccc5c"/>
<rect x="769.9" y="164.4" width="2.5" height="2.5" fill="#3ccc5c"/>
<rect x="769.9" y="184.8" width="2.5" height="2.5" fill="#3ccc5c"/>
<rect x="769.9" y="189.8" width="2.5" height="2.5" fill="#3ccc5c"/>
<rect x="769.9" y="195.8" width="2.5" height="2.5" fill="#3ccc5c"/>
<rect x="769.9" y="199.8" width="2.5" height="2.5" fill="#3ccc5c"/>
<rect x="769.9" y="203.8" width="2.5" height="2.5" fill="#3ccc5c"/>
<rect x="769.9" y="208.8" width="2.5" height="2.5" fill="#3ccc5c"/>
<rect x="769.9" y="211.8" width="2.5" height="2.5" fill="#3ccc5c"/>
<rect x="769.9" y="214.8" width="2.5" height="2.5" fill="#3ccc5c"/>
<rect x="769.9" y="218.8" width="2.5" height="2.5" fill="#3ccc5c"/>
<rect x="769.9" y="223.8" width="2.5" height="2.5" fill="#3ccc5c"/>
<rect x="769.9" y="227.8" width="2.5" height="2.5" fill="#3ccc5c"/>
<rect x="769.9" y="232.2" width="2.5" height="2.5" fill="#3ccc5c"/>
<rect x="769.9" y="235.8" width="2.5" height="2.5" fill="#3ccc5c"/>
<rect x="769.9" y="237.8" width="2.5" height="2.5" fill="#3ccc5c"/>
<rect x="769.9" y="239.8" width="2.5" height="2.5" fill="#3ccc5c"/>
<rect x="769.9" y="241.8" width="2.5" height="2.5" fill="#3ccc5c"/>
<rect x="788.8" y="158.1" width="2.5" height="2.5" fill="#48c040"/>
<rect x="788.8" y="186.1" width="2.5" height="2.5" fill="#48c040"/>
<rect x="788.8" y="190.8" width="2.5" height="2.5" fill="#48c040"/>
<rect x="788.8" y="194.8" width="2.5" height="2.5" fill="#48c040"/>
<rect x="788.8" y="198.8" width="2.5" height="2.5" fill="#48c040"/>
<rect x="788.8" y="206.8" width="2.5" height="2.5" fill="#48c040"/>
<rect x="788.8" y="210.8" width="2.5" height="2.5" fill="#48c040"/>
<rect x="788.8" y="216.8" width="2.5" height="2.5" fill="#48c040"/>
<rect x="788.8" y="218.8" width="2.5" height="2.5" fill="#48c040"/>
<rect x="788.8" y="220.8" width="2.5" height="2.5" fill="#48c040"/>
<rect x="788.8" y="222.8" width="2.5" height="2.5" fill="#48c040"/>
<rect x="788.8" y="224.8" width="2.5" height="2.5" fill="#48c040"/>
<rect x="788.8" y="226.8" width="2.5" height="2.5" fill="#48c040"/>
<rect x="788.8" y="230.8" width="2.5" height="2.5" fill="#48c040"/>
<rect x="788.8" y="232.8" width="2.5" height="2.5" fill="#48c040"/>
<rect x="788.8" y="234.8" width="2.5" height="2.5" fill="#48c040"/>
<rect x="788.8" y="239.2" width="2.5" height="2.5" fill="#48c040"/>
<rect x="788.8" y="249.2" width="2.5" height="2.5" fill="#48c040"/>
<rect x="788.8" y="266.2" width="2.5" height="2.5" fill="#48c040"/>
<rect x="785.2" y="233.2" width="2.5" height="2.5" fill="#48c040"/>
<rect x="785.2" y="237.2" width="2.5" height="2.5" fill="#48c040"/>
<rect x="785.2" y="267.8" width="2.5" height="2.5" fill="#48c040"/>
<rect x="785.2" y="279.1" width="2.5" height="2.5" fill="#48c040"/>
<rect x="785.2" y="299.2" width="2.5" height="2.5" fill="#48c040"/>
<rect x="810.8" y="172.8" width="2.5" height="2.5" fill="#a4d23a"/>
<rect x="810.8" y="185.1" width="2.5" height="2.5" fill="#a4d23a"/>
<rect x="810.8" y="194.8" width="2.5" height="2.5" fill="#a4d23a"/>
<rect x="810.8" y="225.4" width="2.5" height="2.5" fill="#a4d23a"/>
<rect x="810.8" y="232.4" width="2.5" height="2.5" fill="#a4d23a"/>
<rect x="810.8" y="239.8" width="2.5" height="2.5" fill="#a4d23a"/>
<rect x="810.8" y="244.8" width="2.5" height="2.5" fill="#a4d23a"/>
<rect x="810.8" y="248.8" width="2.5" height="2.5" fill="#a4d23a"/>
<rect x="810.8" y="268.8" width="2.5" height="2.5" fill="#a4d23a"/>
<rect x="810.8" y="271.2" width="2.5" height="2.5" fill="#a4d23a"/>
<rect x="810.8" y="273.8" width="2.5" height="2.5" fill="#a4d23a"/>
<rect x="810.8" y="275.2" width="2.5" height="2.5" fill="#a4d23a"/>
<rect x="810.8" y="255.8" width="2.5" height="2.5" fill="#e0e040"/>
<rect x="810.8" y="257.8" width="2.5" height="2.5" fill="#e0e040"/>
<rect x="833.2" y="179.2" width="2.5" height="2.5" fill="#e6a028"/>
<rect x="833.2" y="186.9" width="2.5" height="2.5" fill="#e6a028"/>
<rect x="833.2" y="188.9" width="2.5" height="2.5" fill="#e6a028"/>
<rect x="833.2" y="194.4" width="2.5" height="2.5" fill="#e6a028"/>
<rect x="833.2" y="201.8" width="2.5" height="2.5" fill="#e6a028"/>
<rect x="833.2" y="210.3" width="2.5" height="2.5" fill="#e6a028"/>
<rect x="833.2" y="235.4" width="2.5" height="2.5" fill="#e6a028"/>
<rect x="833.2" y="249.1" width="2.5" height="2.5" fill="#e6a028"/>
<rect x="833.2" y="212.8" width="2.5" height="2.5" fill="#f0c830"/>
<rect x="833.2" y="214.6" width="2.5" height="2.5" fill="#f0c830"/>
<rect x="833.2" y="216.4" width="2.5" height="2.5" fill="#f0c830"/>
<rect x="833.2" y="218.2" width="2.5" height="2.5" fill="#f0c830"/>
<rect x="833.2" y="220.0" width="2.5" height="2.5" fill="#f0c830"/>
<rect x="833.2" y="221.8" width="2.5" height="2.5" fill="#f0c830"/>
<rect x="833.2" y="223.6" width="2.5" height="2.5" fill="#f0c830"/>
<rect x="860.0" y="151.8" width="2.5" height="2.5" fill="#d03c18"/>
<rect x="860.0" y="162.1" width="2.5" height="2.5" fill="#d03c18"/>
<rect x="860.0" y="165.7" width="2.5" height="2.5" fill="#d03c18"/>
<rect x="860.0" y="171.2" width="2.5" height="2.5" fill="#d03c18"/>
<rect x="860.0" y="179.2" width="2.5" height="2.5" fill="#d03c18"/>
<rect x="860.0" y="181.8" width="2.5" height="2.5" fill="#d03c18"/>
<rect x="860.0" y="188.2" width="2.5" height="2.5" fill="#d03c18"/>
<rect x="860.0" y="193.2" width="2.5" height="2.5" fill="#d03c18"/>
<rect x="860.0" y="241.6" width="2.5" height="2.5" fill="#d03c18"/>
<rect x="860.0" y="247.2" width="2.5" height="2.5" fill="#d03c18"/>
<rect x="860.0" y="253.9" width="2.5" height="2.5" fill="#d03c18"/>
<rect x="859.9" y="202.8" width="2.5" height="2.5" fill="#d03c18"/>
<rect x="859.7" y="204.6" width="2.5" height="2.5" fill="#d03c18"/>
<rect x="859.6" y="207.2" width="2.5" height="2.5" fill="#d03c18"/>
<rect x="860.3" y="209.3" width="2.5" height="2.5" fill="#d03c18"/>
<rect x="860.0" y="210.7" width="2.5" height="2.5" fill="#d03c18"/>
<rect x="859.6" y="212.9" width="2.5" height="2.5" fill="#d03c18"/>
<rect x="860.1" y="214.8" width="2.5" height="2.5" fill="#d03c18"/>
<rect x="860.1" y="216.8" width="2.5" height="2.5" fill="#d03c18"/>
<rect x="859.7" y="218.3" width="2.5" height="2.5" fill="#d03c18"/>
<rect x="860.0" y="219.8" width="2.5" height="2.5" fill="#d03c18"/>
<rect x="860.0" y="222.4" width="2.5" height="2.5" fill="#d03c18"/>
<rect x="859.9" y="224.9" width="2.5" height="2.5" fill="#d03c18"/>
<rect x="859.6" y="227.3" width="2.5" height="2.5" fill="#d03c18"/>
<rect x="860.1" y="229.1" width="2.5" height="2.5" fill="#d03c18"/>
<rect x="859.9" y="231.5" width="2.5" height="2.5" fill="#d03c18"/>
<rect x="859.8" y="232.9" width="2.5" height="2.5" fill="#d03c18"/>
<rect x="859.8" y="234.5" width="2.5" height="2.5" fill="#d03c18"/>
</g>
</svg></body></html>
